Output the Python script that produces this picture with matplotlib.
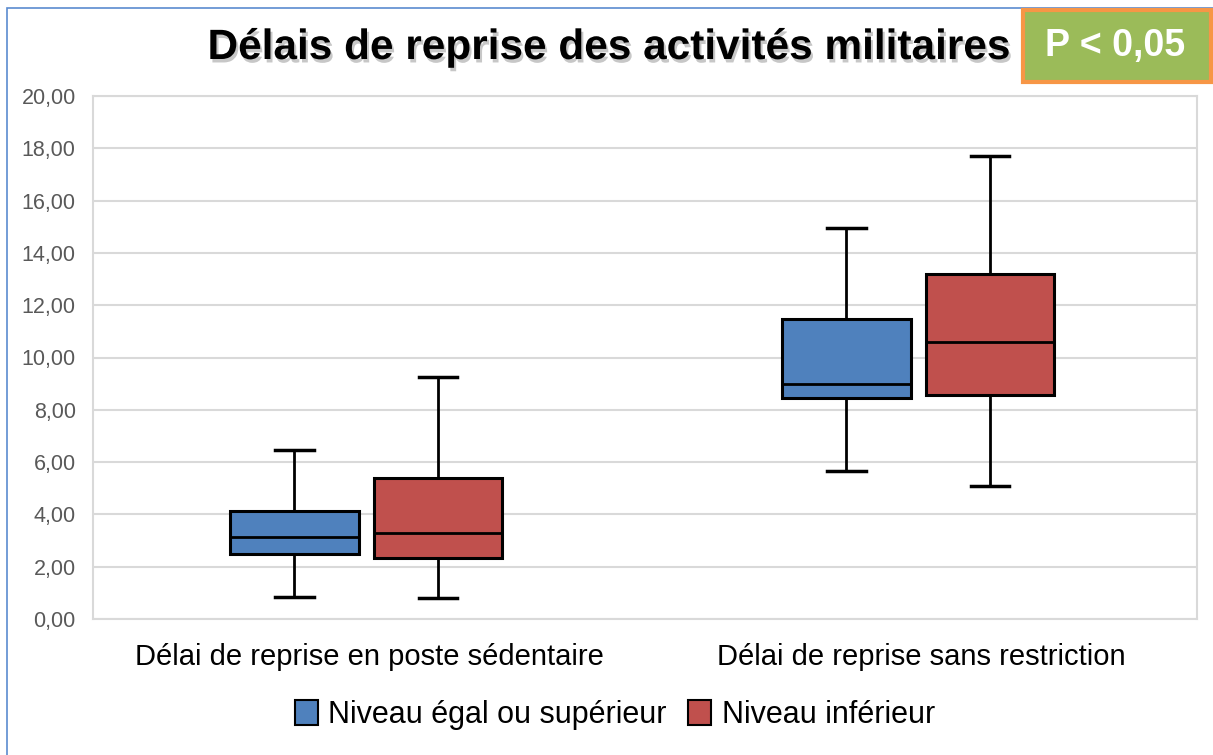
import matplotlib
matplotlib.use("Agg")
import matplotlib.pyplot as plt
import matplotlib.patheffects as pe
from matplotlib.patches import Rectangle, Patch

plt.rcParams['font.family'] = ['Liberation Sans', 'DejaVu Sans']

# ── données ──────────────────────────────────────
categories = ["Délai de reprise en poste sédentaire", "Délai de reprise sans restriction"]
series = ["Niveau égal ou supérieur", "Niveau inférieur"]
colors = ["#4F81BD", "#C0504D"]

whislo = [[0.84, 5.66], [0.80, 5.09]]
q1 = [[2.49, 8.45], [2.33, 8.57]]
med = [[3.14, 8.99], [3.29, 10.59]]
q3 = [[4.13, 11.47], [5.39, 13.19]]
whishi = [[6.46, 14.95], [9.25, 17.70]]

yticks = [0, 2, 4, 6, 8, 10, 12, 14, 16, 18, 20]

# ── figure ───────────────────────────────────────
W, H = 1213, 755
fig = plt.figure(figsize=(W / 100, H / 100), dpi=100)
ax = fig.add_axes([93 / W, (H - 619) / H, (1197 - 93) / W, (619 - 96) / H])

offsets = [-0.135, 0.125]
width = 0.232
for s in range(len(series)):
    stats = []
    for c in range(len(categories)):
        stats.append(dict(whislo=whislo[s][c], q1=q1[s][c], med=med[s][c],
                          q3=q3[s][c], whishi=whishi[s][c], fliers=[]))
    pos = [c + 0.5 + offsets[s] for c in range(len(categories))]
    ax.bxp(stats, positions=pos, widths=width, patch_artist=True,
           showfliers=False,
           boxprops=dict(facecolor=colors[s], edgecolor="black", linewidth=2.2),
           medianprops=dict(color="black", linewidth=2),
           whiskerprops=dict(color="black", linewidth=2),
           capprops=dict(color="black", linewidth=2.5),
           capwidths=0.07, zorder=3)

ax.set_xlim(0, 2)
ax.set_ylim(0, 20)
ax.set_yticks(yticks)
ax.set_yticklabels([f"{v:.2f}".replace(".", ",") for v in yticks],
                   fontsize=15.5, color="#595959")
ax.set_xticks([0.5, 1.5])
ax.set_xticklabels(categories, fontsize=21)
ax.tick_params(axis="both", length=0)
ax.tick_params(axis="y", pad=12.5)
ax.tick_params(axis="x", pad=17)
ax.grid(axis="y", color="#D9D9D9", linewidth=1.5, zorder=0)
ax.set_axisbelow(True)
for sp in ax.spines.values():
    sp.set_color("#D9D9D9")
    sp.set_linewidth(1.5)

# titre avec ombre
fig.text(610 / W, 1 - 48 / H, "Délais de reprise des activités militaires",
         ha="center", va="center", fontsize=30.5, fontweight="bold",
         path_effects=[pe.SimplePatchShadow(offset=(1.5, -2.5), alpha=0.22), pe.Normal()])

# cadre du graphique
fig.patches.append(Rectangle((7 / W, -0.1), 1.2, 1 - 8 / H + 0.1, transform=fig.transFigure,
                             fill=False, edgecolor="#5B8BD0", linewidth=1.2, zorder=0))

# encadré P < 0,05
fig.patches.append(Rectangle((1023 / W, 1 - 82 / H), (1211 - 1023) / W, 72 / H,
                             transform=fig.transFigure, facecolor="#9BBB59",
                             edgecolor="#F79646", linewidth=3, zorder=5))
fig.text(1115 / W, 1 - 46 / H, "P < 0,05", ha="center", va="center",
         fontsize=27, fontweight="bold", color="white", zorder=6)

handles = [Patch(facecolor=colors[i], edgecolor="black", linewidth=1.5, label=series[i])
           for i in range(len(series))]
fig.legend(handles=handles, loc="center", bbox_to_anchor=(615 / W, 1 - 715 / H),
           ncol=2, frameon=False, fontsize=22, handlelength=0.75, handleheight=0.9,
           handletextpad=0.35, columnspacing=0.7)

plt.savefig("out.png", dpi=100)
